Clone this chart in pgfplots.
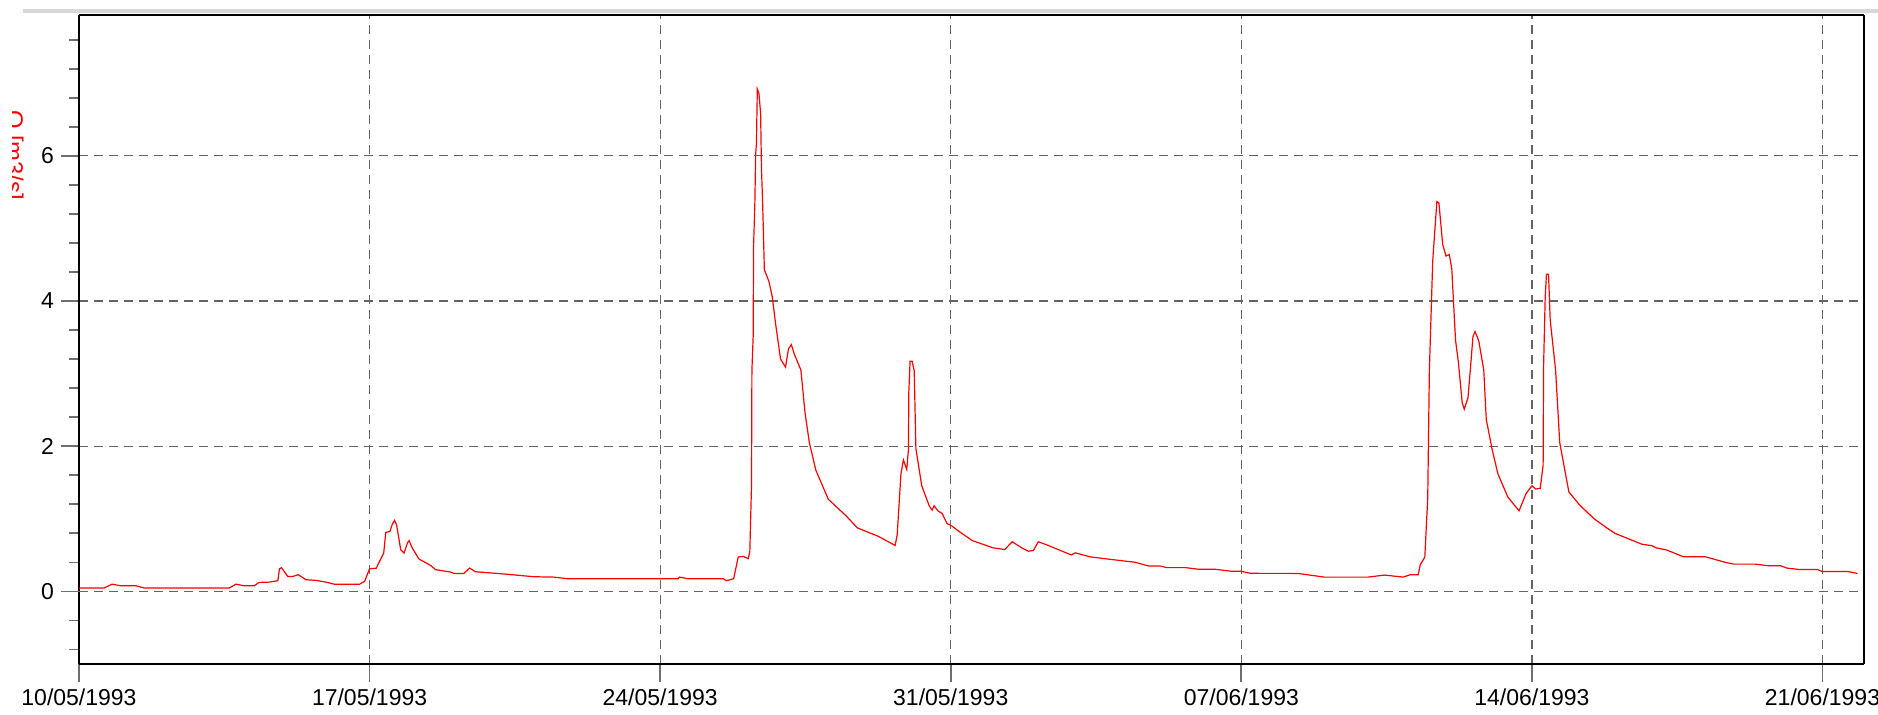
\documentclass[border=0pt]{standalone}
\usepackage{fontspec}
\setmainfont{Liberation Sans}
\usepackage{pgfplots}
\pgfplotsset{compat=1.18}
\definecolor{gridGrey}{RGB}{100,100,100}
\definecolor{zeroGrey}{RGB}{150,150,150}
\definecolor{tickGrey}{RGB}{110,110,110}
\definecolor{barGrey}{RGB}{215,215,215}

% discharge, x = days since 10/05/1993
\pgfplotstableread{
day q
0 0.047
0.6 0.047
0.8 0.10
1.0 0.078
1.37 0.078
1.57 0.047
3.62 0.047
3.78 0.10
3.98 0.078
4.22 0.078
4.34 0.124
4.58 0.128
4.79 0.147
4.83 0.312
4.88 0.326
5.03 0.206
5.15 0.206
5.28 0.23
5.47 0.161
5.71 0.152
5.95 0.128
6.15 0.10
6.76 0.10
6.88 0.138
7.0 0.312
7.16 0.32
7.24 0.413
7.34 0.528
7.39 0.812
7.49 0.826
7.55 0.93
7.6 0.977
7.65 0.92
7.75 0.574
7.83 0.528
7.91 0.666
7.95 0.70
8.03 0.597
8.19 0.446
8.47 0.358
8.59 0.299
8.95 0.267
9.03 0.248
9.27 0.248
9.41 0.322
9.55 0.271
10.16 0.244
10.96 0.202
11.44 0.197
11.77 0.175
14.43 0.175
14.47 0.197
14.67 0.175
15.52 0.175
15.60 0.147
15.77 0.175
15.88 0.473
16.0 0.483
16.12 0.45
16.16 0.549
16.2 1.457
16.21 3.04
16.24 3.51
16.25 4.76
16.28 5.32
16.3 6.02
16.32 6.18
16.34 6.92
16.38 6.86
16.42 6.58
16.44 5.83
16.47 5.32
16.51 4.43
16.62 4.27
16.70 4.06
16.78 3.69
16.9 3.20
17.02 3.09
17.09 3.34
17.16 3.40
17.23 3.27
17.39 3.05
17.49 2.46
17.59 2.06
17.75 1.67
18.05 1.27
18.48 1.04
18.75 0.875
19.25 0.76
19.66 0.633
19.71 0.78
19.8 1.62
19.86 1.81
19.94 1.68
19.98 1.95
19.99 2.74
20.02 3.17
20.07 3.17
20.12 3.04
20.16 1.97
20.3 1.457
20.48 1.18
20.55 1.12
20.6 1.18
20.69 1.11
20.79 1.075
20.91 0.936
21.03 0.90
21.19 0.83
21.52 0.70
21.74 0.656
22.02 0.60
22.3 0.577
22.48 0.684
22.71 0.60
22.87 0.554
22.99 0.563
23.11 0.684
23.35 0.633
23.9 0.503
24.0 0.531
24.36 0.476
24.88 0.439
25.44 0.402
25.76 0.351
26.04 0.351
26.2 0.328
26.65 0.328
26.97 0.305
27.37 0.305
27.77 0.277
28.0 0.277
28.22 0.249
29.36 0.248
30.0 0.197
31.05 0.197
31.45 0.225
31.9 0.197
32.06 0.229
32.26 0.229
32.31 0.367
32.42 0.472
32.46 0.94
32.49 1.28
32.53 3.05
32.61 4.55
32.71 5.37
32.76 5.35
32.85 4.78
32.93 4.62
33.01 4.64
33.07 4.44
33.16 3.46
33.23 3.15
33.32 2.6
33.37 2.51
33.46 2.67
33.51 3.01
33.58 3.51
33.63 3.58
33.72 3.45
33.84 3.05
33.9 2.37
34.04 1.96
34.18 1.62
34.42 1.30
34.69 1.11
34.86 1.35
35.0 1.455
35.09 1.41
35.2 1.42
35.27 1.74
35.28 3.08
35.32 4.05
35.35 4.37
35.40 4.37
35.44 3.74
35.57 3.05
35.67 2.05
35.89 1.37
36.15 1.19
36.5 1.0
36.79 0.88
37.0 0.80
37.65 0.65
37.89 0.63
37.99 0.60
38.25 0.57
38.65 0.477
39.18 0.477
39.66 0.40
39.86 0.376
40.38 0.376
40.7 0.353
40.99 0.353
41.15 0.32
41.43 0.303
41.87 0.303
41.99 0.275
42.6 0.275
42.84 0.248
}\flowdata

\begin{document}
\begin{tikzpicture}
\begin{axis}[
    scale only axis,
    width=892.5pt,
    height=324.5pt,
    xmin=0, xmax=43,
    ymin=-1, ymax=7.94,
    separate axis lines,
    axis line style={black, line width=1.4pt},
    xtick={0,7,14,21,28,35,42},
    xticklabels={10/05/1993,17/05/1993,24/05/1993,31/05/1993,07/06/1993,14/06/1993,21/06/1993},
    ytick={2,4,6},
    extra y ticks={0},
    extra y tick style={grid style={zeroGrey, line width=1pt, dash pattern=on 4.5pt off 3pt}},
    minor ytick={-0.8,-0.4,0.4,0.8,1.2,1.6,2.4,2.8,3.2,3.6,4.4,4.8,5.2,5.6,6.4,6.8,7.2,7.6},
    xtick pos=bottom,
    ytick pos=left,
    tick align=outside,
    major tick length=9pt,
    minor tick length=5pt,
    tick style={tickGrey, line width=0.85pt},
    xmajorgrids, ymajorgrids,
    major grid style={gridGrey, line width=0.6pt, dash pattern=on 4.5pt off 3pt},
    /pgf/number format/assume math mode=true,
    tick label style={font=\fontsize{11.5}{13}\selectfont},
    xticklabel style={font=\fontsize{11.5}{13}\selectfont},
    yticklabel style={font=\fontsize{11.5}{13}\selectfont},
]
\addplot[red, line width=0.6pt] table[x=day, y=q] {\flowdata};
\end{axis}
\draw[barGrey, line width=2pt] (-28pt,326.4pt) -- (899.5pt,326.4pt);
\begin{scope}
\clip (-33.15pt,0pt) rectangle (0pt,332pt);
\node[red, rotate=-90, anchor=north, inner sep=0pt, font=\fontsize{11.9}{13}\selectfont] at (-27.5pt,254.5pt) {Q [m3/s]};
\end{scope}
\pgfresetboundingbox
\useasboundingbox (-39.5pt,-25pt) rectangle (899.5pt,332pt);
\end{tikzpicture}
\end{document}
